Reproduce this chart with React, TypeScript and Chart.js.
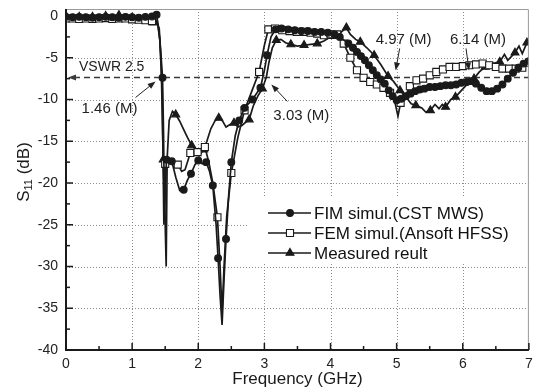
import React, { useEffect, useRef } from "react";
import { Chart, registerables } from "chart.js";

Chart.register(...registerables);

const FONT = '"Liberation Sans", Arial, sans-serif';
const INK = "#1a1a1a";

// Axis ticks
const xTicks = [0, 1, 2, 3, 4, 5, 6, 7];
const yTicks = [0, -5, -10, -15, -20, -25, -30, -35, -40];

// Reference VSWR level and the marked crossing frequencies (GHz)
const vswr = 2.5;
const crossingFreqs = [1.46, 3.03, 4.97, 6.14];

const seriesNames = ["FIM simul.(CST MWS)", "FEM simul.(Ansoft HFSS)", "Measured reult"];

// [frequency GHz, S11 dB, marker drawn (1) or not (0)]
const fimPoints: [number, number, number][] = [
  [0, -0.1, 1], [0.1, -0.15, 1], [0.2, -0.1, 1], [0.3, -0.15, 1], [0.4, -0.2, 1], [0.5, -0.15, 1],
  [0.6, -0.1, 1], [0.7, -0.15, 1], [0.8, -0.2, 1], [0.9, -0.1, 1], [1.0, -0.15, 1], [1.1, -0.2, 1],
  [1.2, -0.1, 1], [1.3, -0.05, 1], [1.37, 0.15, 1], [1.42, -2.8, 0], [1.46, -7.4, 1], [1.475, -14, 0],
  [1.49, -24.5, 0], [1.505, -20, 0], [1.52, -17.2, 1], [1.56, -17.6, 0], [1.6, -17.4, 1], [1.66, -19.3, 0],
  [1.72, -20.9, 0], [1.78, -20.8, 1], [1.84, -19.6, 0], [1.89, -18.9, 1], [1.95, -17.8, 0], [2.0, -17.3, 1],
  [2.06, -17.7, 0], [2.12, -17.5, 1], [2.17, -18.6, 0], [2.22, -20.3, 1], [2.27, -25, 0], [2.3, -29, 1],
  [2.33, -33.5, 0], [2.36, -37, 0], [2.39, -31.5, 0], [2.42, -26.7, 1], [2.46, -21.5, 0], [2.5, -17.5, 1],
  [2.56, -14.3, 0], [2.62, -12.5, 1], [2.7, -11, 1], [2.82, -10, 1], [2.94, -8.6, 1], [3.0, -6.5, 0],
  [3.04, -4.7, 1], [3.1, -2.5, 0], [3.17, -1.6, 1], [3.26, -1.5, 1], [3.36, -1.6, 1], [3.46, -1.7, 1],
  [3.56, -1.8, 1], [3.66, -1.8, 1], [3.76, -1.9, 1], [3.86, -1.9, 1], [3.96, -2.0, 1], [4.06, -2.2, 1],
  [4.14, -2.5, 1], [4.27, -3.3, 1], [4.34, -3.8, 1], [4.4, -4.3, 1], [4.46, -4.8, 1], [4.52, -5.3, 1],
  [4.58, -5.9, 1], [4.64, -6.5, 1], [4.7, -7.1, 1], [4.76, -7.6, 1], [4.82, -8.1, 1], [4.88, -8.9, 1],
  [4.94, -9.6, 1], [5.0, -10.1, 1], [5.07, -9.9, 1], [5.14, -9.6, 1], [5.21, -9.3, 1], [5.28, -9.0, 1],
  [5.35, -8.8, 1], [5.42, -8.7, 1], [5.5, -8.5, 1], [5.58, -8.5, 1], [5.66, -8.4, 1], [5.74, -8.3, 1],
  [5.82, -8.3, 1], [5.9, -8.2, 1], [5.98, -8.0, 1], [6.06, -7.9, 1], [6.13, -7.8, 1], [6.2, -8.1, 1],
  [6.28, -8.6, 1], [6.36, -9.0, 1], [6.44, -9.0, 1], [6.52, -8.7, 1], [6.6, -8.2, 1], [6.68, -7.5, 1],
  [6.76, -6.8, 1], [6.84, -6.2, 1], [6.92, -5.7, 1], [7.0, -5.4, 1],
];

const femPoints: [number, number, number][] = [
  [0, -0.3, 1], [0.1, -0.3, 1], [0.2, -0.35, 1], [0.3, -0.3, 1], [0.4, -0.35, 1], [0.5, -0.3, 1],
  [0.6, -0.25, 1], [0.7, -0.35, 1], [0.8, -0.3, 1], [0.9, -0.3, 1], [1.0, -0.4, 1], [1.1, -0.45, 1],
  [1.2, -0.5, 1], [1.3, -0.6, 1], [1.38, -0.5, 0], [1.42, -3, 0], [1.455, -9, 0], [1.48, -25, 0],
  [1.5, -17.7, 1], [1.6, -17.6, 0], [1.69, -17.8, 1], [1.75, -18.6, 0], [1.8, -18.4, 0], [1.88, -16.4, 1],
  [1.99, -16.3, 1], [2.1, -15.7, 1], [2.16, -17.5, 0], [2.22, -20, 0], [2.29, -24.1, 1], [2.33, -30, 0],
  [2.36, -35.5, 0], [2.39, -30, 0], [2.43, -24, 0], [2.5, -18.8, 1], [2.6, -14.5, 0], [2.7, -11.3, 1],
  [2.8, -9.2, 0], [2.92, -6.7, 1], [3.0, -3.5, 0], [3.06, -1.6, 1], [3.16, -1.5, 1], [3.27, -1.7, 1],
  [3.38, -1.8, 1], [3.49, -1.9, 1], [3.6, -1.9, 1], [3.7, -2.0, 1], [3.8, -2.1, 1], [3.9, -2.3, 1],
  [4.0, -2.2, 1], [4.1, -2.2, 1], [4.2, -3.3, 1], [4.3, -5.0, 1], [4.4, -6.5, 1], [4.5, -7.4, 1],
  [4.6, -7.9, 1], [4.7, -8.2, 1], [4.8, -8.6, 1], [4.9, -9.2, 1], [4.97, -10.2, 0], [5.02, -12.0, 0],
  [5.06, -10.4, 1], [5.15, -9.3, 0], [5.2, -8.4, 1], [5.3, -7.7, 1], [5.4, -7.5, 1], [5.5, -7.1, 1],
  [5.6, -6.7, 1], [5.7, -6.4, 1], [5.8, -6.1, 1], [5.9, -6.1, 1], [6.0, -6.0, 1], [6.1, -5.9, 1],
  [6.2, -5.8, 1], [6.3, -5.7, 1], [6.4, -5.9, 1], [6.5, -6.1, 1], [6.6, -6.3, 1], [6.7, -6.3, 1],
  [6.8, -6.3, 1], [6.9, -6.2, 1], [7.0, -5.6, 1],
];

const measPoints: [number, number, number][] = [
  [0, 0, 1], [0.05, -0.1, 0], [0.1, -0.05, 0], [0.2, -0.1, 1], [0.3, -0.2, 0], [0.4, -0.1, 1],
  [0.5, -0.2, 0], [0.6, 0, 1], [0.7, -0.2, 0], [0.8, 0.1, 1], [0.9, -0.1, 0], [1.0, -0.2, 1],
  [1.1, -0.3, 0], [1.2, -0.5, 1], [1.27, -0.4, 0], [1.32, -0.8, 1], [1.37, -0.6, 0], [1.41, -1.5, 0],
  [1.44, -6, 0], [1.47, -17.2, 1], [1.5, -25, 0], [1.515, -30, 0], [1.53, -17, 0], [1.56, -12.5, 0],
  [1.61, -11.4, 0], [1.66, -11.8, 1], [1.72, -12.6, 0], [1.78, -13.6, 0], [1.84, -14.6, 0], [1.9, -15.5, 1],
  [1.96, -15.9, 0], [2.02, -16.7, 0], [2.08, -16.0, 1], [2.13, -15.0, 0], [2.19, -13.5, 0], [2.25, -12.6, 0],
  [2.31, -12.2, 1], [2.37, -12.6, 0], [2.42, -13.3, 0], [2.48, -13.0, 0], [2.54, -12.8, 1], [2.6, -13.3, 0],
  [2.66, -13.1, 0], [2.72, -12.7, 0], [2.77, -12.4, 1], [2.83, -10.8, 0], [2.9, -9.6, 0], [2.97, -8.7, 1],
  [3.03, -7.3, 0], [3.07, -5.5, 0], [3.12, -3.8, 0], [3.18, -2.9, 1], [3.25, -2.8, 0], [3.32, -3.2, 0],
  [3.4, -3.4, 1], [3.5, -3.6, 0], [3.6, -3.5, 1], [3.7, -3.4, 0], [3.8, -3.3, 1], [3.9, -3.0, 0],
  [4.02, -2.4, 1], [4.12, -2.2, 0], [4.24, -1.4, 1], [4.3, -2.2, 0], [4.38, -2.8, 0], [4.45, -3.1, 1],
  [4.55, -3.8, 0], [4.66, -4.7, 1], [4.76, -5.8, 0], [4.87, -7.2, 1], [4.95, -7.8, 0], [5.05, -8.9, 1],
  [5.15, -9.8, 0], [5.22, -10.5, 0], [5.29, -10.7, 1], [5.38, -11.0, 0], [5.44, -11.5, 0], [5.51, -11.3, 1],
  [5.58, -10.6, 0], [5.64, -11.1, 0], [5.69, -10.6, 0], [5.74, -10.9, 1], [5.82, -10.0, 0], [5.89, -9.7, 1],
  [5.97, -9.0, 0], [6.05, -8.3, 0], [6.17, -7.5, 1], [6.25, -6.7, 0], [6.34, -6.1, 1], [6.45, -5.7, 0],
  [6.56, -5.5, 1], [6.63, -4.6, 0], [6.68, -5.3, 0], [6.79, -4.4, 1], [6.85, -3.6, 0], [6.9, -4.5, 0],
  [6.97, -3.2, 1], [7.0, -3.0, 0],
];

type Marker = { style: string; radius: number; fill: string };
const markerStyles: Marker[] = [
  { style: "circle", radius: 3.4, fill: INK },
  { style: "rect", radius: 5, fill: "#ffffff" },
  { style: "triangle", radius: 4.6, fill: INK },
];

function makeDataset(points: [number, number, number][], idx: number) {
  const m = markerStyles[idx];
  return {
    label: seriesNames[idx],
    data: points.map((p) => ({ x: p[0], y: p[1] })),
    showLine: true,
    borderColor: INK,
    borderWidth: 1.7,
    tension: 0,
    fill: false,
    pointStyle: m.style,
    pointRadius: points.map((p) => (p[2] ? m.radius : 0)),
    pointHoverRadius: points.map((p) => (p[2] ? m.radius : 0)),
    pointBackgroundColor: m.fill,
    pointBorderColor: INK,
    pointBorderWidth: 1.1,
  };
}

function drawArrow(ctx: CanvasRenderingContext2D, x1: number, y1: number, x2: number, y2: number) {
  const ang = Math.atan2(y2 - y1, x2 - x1);
  const len = 8;
  const half = 3;
  ctx.beginPath();
  ctx.moveTo(x1, y1);
  ctx.lineTo(x2 - Math.cos(ang) * len * 0.8, y2 - Math.sin(ang) * len * 0.8);
  ctx.stroke();
  ctx.beginPath();
  ctx.moveTo(x2, y2);
  ctx.lineTo(x2 - Math.cos(ang) * len - Math.sin(ang) * half, y2 - Math.sin(ang) * len + Math.cos(ang) * half);
  ctx.lineTo(x2 - Math.cos(ang) * len + Math.sin(ang) * half, y2 - Math.sin(ang) * len - Math.cos(ang) * half);
  ctx.closePath();
  ctx.fill();
}

function drawMarker(ctx: CanvasRenderingContext2D, m: Marker, cx: number, cy: number) {
  ctx.strokeStyle = INK;
  ctx.fillStyle = m.fill;
  ctx.beginPath();
  if (m.style === "circle") {
    ctx.arc(cx, cy, m.radius, 0, Math.PI * 2);
  } else if (m.style === "rect") {
    const s = m.radius * Math.SQRT1_2;
    ctx.rect(cx - s, cy - s, 2 * s, 2 * s);
  } else {
    const r = m.radius;
    const k = Math.sin((Math.PI / 3) * 2);
    ctx.moveTo(cx, cy - r);
    ctx.lineTo(cx + r * k, cy + r * 0.5);
    ctx.lineTo(cx - r * k, cy + r * 0.5);
    ctx.closePath();
  }
  ctx.fill();
  ctx.stroke();
}

// Placement of each crossing label relative to its point on the VSWR line
const crossingLayout = [
  { tip: [-7, 4], tail: [-27, 20], text: [-81, 31] },
  { tip: [5, 7], tail: [21, 24], text: [7, 38] },
  { tip: [1, -7], tail: [5, -29], text: [-19, -38] },
  { tip: [-3, -7], tail: [-6, -29], text: [-22, -38] },
];

const decor = {
  id: "decor",
  beforeDatasetsDraw(chart: any) {
    const { ctx, chartArea: a, scales } = chart;
    const { x, y } = scales;
    ctx.save();
    // dotted grid
    ctx.strokeStyle = "#8c8c8c";
    ctx.lineWidth = 1;
    ctx.setLineDash([1, 2]);
    xTicks.forEach((v) => {
      if (v === xTicks[0] || v === xTicks[xTicks.length - 1]) return;
      const px = Math.round(x.getPixelForValue(v)) + 0.5;
      ctx.beginPath();
      ctx.moveTo(px, a.top);
      ctx.lineTo(px, a.bottom);
      ctx.stroke();
    });
    yTicks.forEach((v) => {
      if (v === 0 || v === -40) return;
      const py = Math.round(y.getPixelForValue(v)) + 0.5;
      ctx.beginPath();
      ctx.moveTo(a.left, py);
      ctx.lineTo(a.right, py);
      ctx.stroke();
    });
    // VSWR reference line
    const level = 20 * Math.log10((vswr - 1) / (vswr + 1));
    const yy = y.getPixelForValue(level);
    ctx.strokeStyle = "#3a3a3a";
    ctx.lineWidth = 1.6;
    ctx.setLineDash([6, 4]);
    ctx.beginPath();
    ctx.moveTo(a.left + 8, yy);
    ctx.lineTo(a.right, yy);
    ctx.stroke();
    ctx.setLineDash([]);
    ctx.fillStyle = "#3a3a3a";
    ctx.beginPath();
    ctx.moveTo(a.left + 2, yy);
    ctx.lineTo(a.left + 10, yy - 3);
    ctx.lineTo(a.left + 10, yy + 3);
    ctx.closePath();
    ctx.fill();
    ctx.restore();
  },
  afterDatasetsDraw(chart: any) {
    const { ctx, chartArea: a, scales } = chart;
    const { x, y } = scales;
    const level = 20 * Math.log10((vswr - 1) / (vswr + 1));
    const yy = y.getPixelForValue(level);
    ctx.save();
    ctx.fillStyle = "#222";
    ctx.textBaseline = "middle";
    ctx.textAlign = "left";
    ctx.font = `14px ${FONT}`;
    ctx.fillText(`VSWR ${vswr}`, a.left + 13, yy - 10);

    ctx.font = `15px ${FONT}`;
    ctx.strokeStyle = "#222";
    ctx.lineWidth = 1;
    crossingFreqs.forEach((f, i) => {
      const px = x.getPixelForValue(f);
      const L = crossingLayout[i];
      ctx.fillStyle = "#222";
      ctx.fillText(`${f.toFixed(2)} (M)`, px + L.text[0], yy + L.text[1]);
      drawArrow(ctx, px + L.tail[0], yy + L.tail[1], px + L.tip[0], yy + L.tip[1]);
    });

    // legend
    const boxL = x.getPixelForValue(2.75);
    ctx.fillStyle = "#ffffff";
    ctx.fillRect(boxL, 198, a.right - boxL, 66);
    const rows = [213, 233, 253];
    const datasets = chart.data.datasets;
    rows.forEach((ry, i) => {
      const m = markerStyles[i];
      ctx.strokeStyle = INK;
      ctx.lineWidth = 1.7;
      ctx.beginPath();
      ctx.moveTo(268, ry);
      ctx.lineTo(311, ry);
      ctx.stroke();
      ctx.lineWidth = 1.1;
      drawMarker(ctx, m, 290, ry);
      ctx.fillStyle = "#111";
      ctx.font = `17px ${FONT}`;
      ctx.textBaseline = "middle";
      ctx.fillText(datasets[i].label, 314, ry + 1);
    });
    ctx.restore();
  },
  afterDraw(chart: any) {
    const { ctx, chartArea: a, scales } = chart;
    const { x, y } = scales;
    ctx.save();
    // frame
    ctx.strokeStyle = "#9a9a9a";
    ctx.lineWidth = 1;
    ctx.beginPath();
    ctx.moveTo(a.left, a.top + 0.5);
    ctx.lineTo(a.right - 0.5, a.top + 0.5);
    ctx.lineTo(a.right - 0.5, a.bottom);
    ctx.stroke();
    ctx.strokeStyle = "#1a1a1a";
    ctx.lineWidth = 2;
    ctx.beginPath();
    ctx.moveTo(a.left, a.top);
    ctx.lineTo(a.left, a.bottom);
    ctx.lineTo(a.right, a.bottom);
    ctx.stroke();
    // inward ticks
    ctx.lineWidth = 1.5;
    for (let i = 0; i <= 14; i++) {
      const px = x.getPixelForValue(i * 0.5);
      const len = i % 2 === 0 ? 7 : 4;
      ctx.beginPath();
      ctx.moveTo(px, a.bottom);
      ctx.lineTo(px, a.bottom - len);
      ctx.stroke();
    }
    for (let i = 0; i <= 16; i++) {
      const py = y.getPixelForValue(-i * 2.5);
      const len = i % 2 === 0 ? 7 : 4;
      ctx.beginPath();
      ctx.moveTo(a.left, py);
      ctx.lineTo(a.left + len, py);
      ctx.stroke();
    }
    // axis titles
    ctx.fillStyle = "#1a1a1a";
    ctx.textAlign = "center";
    ctx.textBaseline = "middle";
    ctx.font = `17px ${FONT}`;
    ctx.fillText("Frequency (GHz)", (a.left + a.right) / 2, 379);

    ctx.translate(24, 172);
    ctx.rotate(-Math.PI / 2);
    ctx.textAlign = "left";
    ctx.font = `17px ${FONT}`;
    const wS = ctx.measureText("S").width;
    const wRest = ctx.measureText(" (dB)").width;
    ctx.font = `11px ${FONT}`;
    const wSub = ctx.measureText("11").width;
    let cx = -(wS + wSub + wRest) / 2;
    ctx.font = `17px ${FONT}`;
    ctx.fillText("S", cx, 0);
    cx += wS;
    ctx.font = `11px ${FONT}`;
    ctx.fillText("11", cx, 5);
    cx += wSub;
    ctx.font = `17px ${FONT}`;
    ctx.fillText(" (dB)", cx, 0);
    ctx.restore();
  },
};

function zeroPadding(s: any) {
  s.paddingTop = 0;
  s.paddingBottom = 0;
  s.paddingLeft = 0;
  s.paddingRight = 0;
}

export default function App() {
  const canvasRef = useRef<HTMLCanvasElement | null>(null);

  useEffect(() => {
    if (!canvasRef.current) return;
    const tickFont = { family: FONT, size: 14 };
    const chart = new Chart(canvasRef.current, {
      type: "scatter",
      data: {
        datasets: [makeDataset(fimPoints, 0), makeDataset(femPoints, 1), makeDataset(measPoints, 2)] as any,
      },
      options: {
        animation: false,
        responsive: false,
        devicePixelRatio: 1,
        layout: { padding: { top: 9, right: 3, left: 0, bottom: 0 } },
        plugins: { legend: { display: false }, tooltip: { enabled: false } },
        scales: {
          x: {
            type: "linear",
            min: 0,
            max: 7,
            afterBuildTicks: (s: any) => {
              s.ticks = xTicks.map((v) => ({ value: v }));
            },
            afterFit: (s: any) => {
              s.height = 39;
              zeroPadding(s);
            },
            grid: { display: false, drawTicks: false },
            border: { display: false },
            ticks: { color: "#222", font: tickFont, padding: 6, maxRotation: 0, callback: (v: any) => String(v) },
          },
          y: {
            type: "linear",
            min: -40,
            max: 0.84,
            afterBuildTicks: (s: any) => {
              s.ticks = yTicks.map((v) => ({ value: v }));
            },
            afterFit: (s: any) => {
              s.width = 66;
              zeroPadding(s);
            },
            grid: { display: false, drawTicks: false },
            border: { display: false },
            ticks: { color: "#222", font: tickFont, padding: 8, callback: (v: any) => String(v) },
          },
        },
      } as any,
      plugins: [decor],
    });
    return () => chart.destroy();
  }, []);

  return (
    <div style={{ position: "fixed", left: 0, top: 0, width: 535, height: 389, background: "#fff" }}>
      <canvas ref={canvasRef} width={535} height={389} />
    </div>
  );
}
